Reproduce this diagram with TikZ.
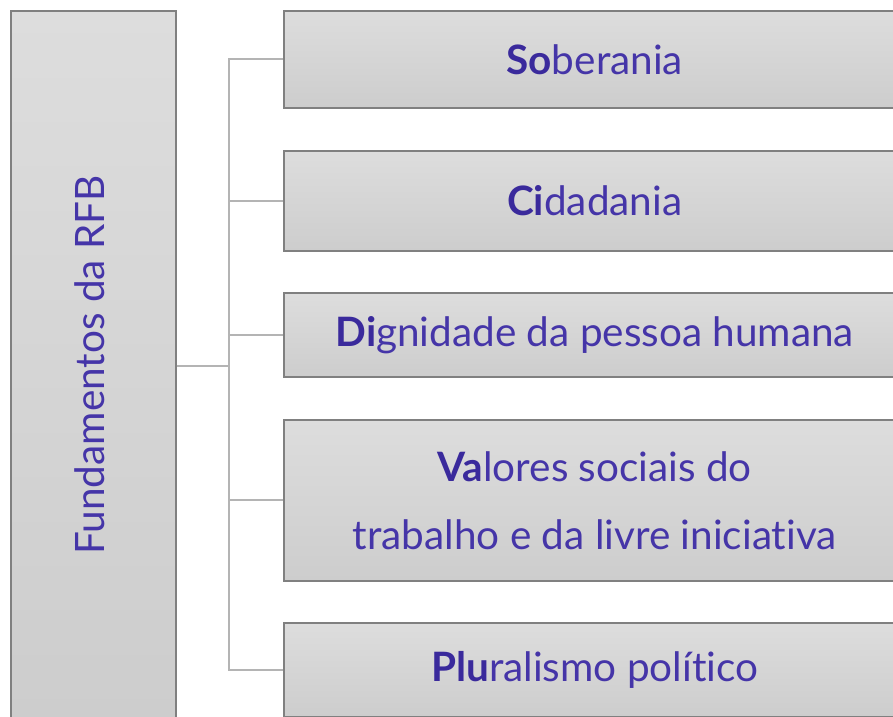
\documentclass[tikz,border=0pt]{standalone}
\usepackage{fontspec}
\setmainfont{Lato}[Ligatures={NoCommon}]
\definecolor{boxtop}{HTML}{DDDDDD}
\definecolor{boxbot}{HTML}{CDCDCD}
\definecolor{boxline}{HTML}{808080}
\definecolor{linkgray}{HTML}{B4B4B4}
\definecolor{txtpurple}{HTML}{4535A8}
\definecolor{txtdark}{HTML}{3A2A9C}
\newcommand{\pre}[1]{{\bfseries\color{txtdark}#1}}
\begin{document}
\begin{tikzpicture}[x=1pt, y=-1pt,
  itembox/.style={draw=boxline, line width=1.5pt, top color=boxtop, bottom color=boxbot,
    minimum width=622pt, inner sep=0pt, text=txtpurple, align=center,
    font=\fontsize{40.5}{68}\selectfont},
  link/.style={draw=linkgray, line width=2pt}]
\useasboundingbox (0, 0) rectangle (893, 716);
\clip (0, 0) rectangle (893, 716);
\node[itembox, minimum width=165pt, minimum height=710pt, anchor=north west]
  (fund) at (10, 10) {};
\node[rotate=90, text=txtpurple, font=\fontsize{40.5}{48}\selectfont]
  (fundtxt) at (90, 365) {Fundamentos da RFB};
\node[itembox, minimum height=97pt, anchor=north west] (sob) at (283, 10)
  {\pre{So}berania};
\node[itembox, minimum height=100pt, anchor=north west] (cid) at (283, 150)
  {\pre{Ci}dadania};
\node[itembox, minimum height=84pt, anchor=north west] (dig) at (283, 292)
  {\pre{Di}gnidade da pessoa humana};
\node[itembox, minimum height=161pt, anchor=north west] (val) at (283, 419)
  {\pre{Va}lores sociais do\\ trabalho e da livre iniciativa};
\node[itembox, minimum height=94pt, anchor=north west] (plu) at (283, 622)
  {\pre{Plu}ralismo político};
\path (fund.east) ++(52, 0) coordinate (trunk);
\draw[link] (fund.east) -- (trunk);
\draw[link] (sob.west) -| (trunk) |- (plu.west);
\draw[link] (cid.west) -- (cid.west -| trunk);
\draw[link] (dig.west) -- (dig.west -| trunk);
\draw[link] (val.west) -- (val.west -| trunk);
\end{tikzpicture}
\end{document}
